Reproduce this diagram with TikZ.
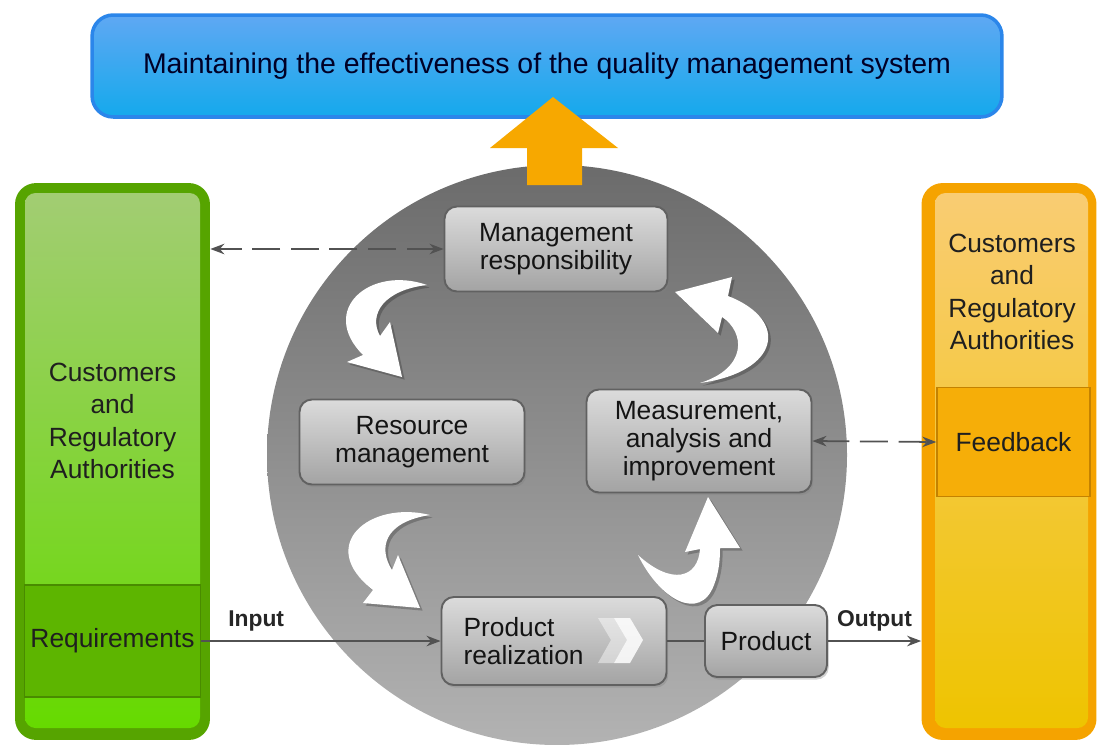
\documentclass[tikz,border=0pt]{standalone}
\usepackage{fontspec}
\setmainfont{Liberation Sans}
\usetikzlibrary{arrows.meta,shadows}

\definecolor{barblue}{HTML}{2B86EA}
\definecolor{bartop}{HTML}{5FA8F3}
\definecolor{barbot}{HTML}{14A9EC}
\definecolor{leafgreen}{HTML}{56A400}
\definecolor{leafbot}{HTML}{66DA00}
\definecolor{reqgreen}{HTML}{5DB500}
\definecolor{ambertop}{HTML}{F5A300}
\definecolor{amberbot}{HTML}{EEC400}
\definecolor{feedfill}{HTML}{F6AE08}
\definecolor{uparrow}{HTML}{F7A800}

\tikzset{
  stepbox/.style={draw=black!62, line width=1.1pt, rounded corners=7pt, top color=black!14, bottom color=black!36,
    drop shadow={opacity=.35, shadow xshift=1pt, shadow yshift=-1.5pt},
    align=center, font=\fontsize{15}{16}\selectfont, text=black!92},
  dasharr/.style={black!68, line width=1pt, dash pattern=on 16pt off 6pt, {Stealth[length=8pt,width=6pt]}-{Stealth[length=8pt,width=6pt]}},
  flowarr/.style={black!68, line width=1pt, -{Stealth[length=8pt,width=6pt]}},
  crescent/.style={fill=white, preaction={fill=black, opacity=.22, transform canvas={xshift=1.5pt,yshift=-1.5pt}}},
  sidelbl/.style={align=center, font=\fontsize{15}{18.5}\selectfont, text=black!88},
  iolbl/.style={font=\fontsize{13}{15}\bfseries\selectfont, text=black!85}
}

\begin{document}
\begin{tikzpicture}[x=0.02cm,y=-0.02cm]
  \useasboundingbox (0,0) rectangle (1098,744);

  % circle behind the process
  \shade[top color=black!58, bottom color=black!30] (557,455) circle (290);

  % top bar
  \node (goal) [draw=barblue, line width=2pt, rounded corners=12pt, top color=bartop, bottom color=barbot,
    minimum width=18.2cm, minimum height=2.04cm, font=\fontsize{16.2}{18}\selectfont, text=black!85!blue] at (547,66)
    {Maintaining the effectiveness of the quality management system};
  \fill[uparrow] (527,185) -- (527,148) -- (490,148) -- (553,97) -- (618,148) -- (582,148) -- (582,185) -- cycle;

  % left side
  \node (leftbox) [fill=leafgreen, rounded corners=12pt, minimum width=3.9cm, minimum height=11.14cm] at (112.5,461.5) {};
  \shade[rounded corners=6pt, top color=leafgreen!55!white, bottom color=leafbot] (25,193) rectangle (200,728);
  \node (req) [draw=leafgreen!85!black, line width=.8pt, fill=reqgreen, minimum width=3.5cm, minimum height=2.24cm,
    font=\fontsize{15}{16}\selectfont, text=black!88] at (112.5,641) {Requirements};
  \node (leftlbl) [sidelbl] at (112.5,421) {Customers\\and\\Regulatory\\Authorities};

  % right side
  \node (rightbox) [fill=ambertop, rounded corners=12pt, minimum width=3.5cm, minimum height=11.14cm] at (1009,461.5) {};
  \shade[rounded corners=6pt, top color=ambertop!55!white, bottom color=amberbot] (935,193) rectangle (1088,728);
  \node (feedback) [draw=ambertop!80!black, line width=.8pt, fill=feedfill, minimum width=3.06cm, minimum height=2.18cm,
    font=\fontsize{15}{16}\selectfont, text=black!88] at (1013.5,442) {Feedback};
  \node (rightlbl) [sidelbl] at (1012,292) {Customers\\and\\Regulatory\\Authorities};

  % process boxes
  \node (mgmt) [stepbox, minimum width=4.46cm, minimum height=1.7cm] at (556,249) {Management\\responsibility};
  \node (resource) [stepbox, minimum width=4.5cm, minimum height=1.7cm] at (412,442) {Resource\\management};
  \node (meas) [stepbox, minimum width=4.5cm, minimum height=2.06cm] at (699,441) {Measurement,\\analysis and\\improvement};
  \node (realiz) [stepbox, align=left, text width=3.62cm, inner xsep=0.44cm, minimum height=1.76cm] at (554,641) {Product\\realization};
  \fill[white, opacity=.45] (598,618) -- (614,618) -- (627,640) -- (614,663) -- (598,663) -- (611,640) -- cycle;
  \fill[white, opacity=.85] (614,618) -- (630,618) -- (643,640) -- (630,663) -- (614,663) -- (627,640) -- cycle;
  \node (product) [stepbox, minimum width=2.44cm, minimum height=1.44cm] at (766,641) {Product};

  % white cycle arrows
  \path[crescent] (427,285) .. controls (370,265) and (318,310) .. (363,355) -- (347,362) -- (402,377) -- (390,322)
    -- (380,336) .. controls (368,314) and (384,290) .. (427,285) -- cycle;
  \path[crescent] (430,515) .. controls (370,500) and (315,545) .. (373,590) -- (363,603) -- (420,608) -- (398,555)
    -- (392,570) .. controls (378,548) and (384,522) .. (430,515) -- cycle;
  \path[crescent] (638,555) .. controls (660,600) and (700,622) .. (714,585) .. controls (719,572) and (720,560) .. (720,548)
    -- (740,548) -- (708,497) -- (685,552) -- (700,549) .. controls (698,578) and (672,586) .. (638,555) -- cycle;
  \path[crescent] (700,383) .. controls (780,372) and (790,320) .. (728,296) -- (732,277) -- (675,292) -- (718,333)
    -- (722,317) .. controls (745,332) and (748,368) .. (700,383) -- cycle;

  % connectors
  \draw[dasharr] (mgmt.west) -- (mgmt.west -| leftbox.east);
  \draw[dasharr] (meas.east) -- (feedback.west);
  \draw[flowarr] (req.east) -- (realiz.west) node[iolbl, pos=.23, above=2pt] {Input};
  \draw[black!68, line width=1pt] (realiz.east) -- (product.west);
  \draw[flowarr] (product.east) -- (product.east -| rightbox.west) node[iolbl, midway, above=2pt] {Output};
\end{tikzpicture}
\end{document}
